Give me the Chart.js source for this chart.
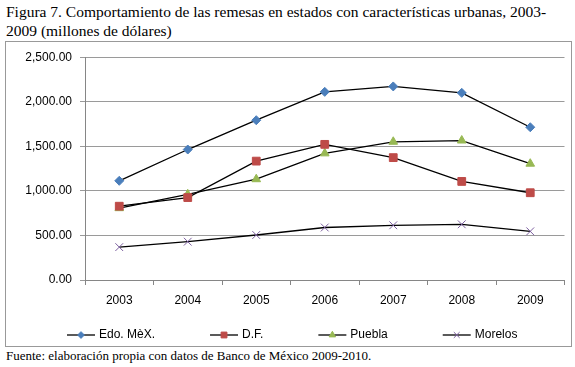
<!DOCTYPE html>
<html>
<head>
<meta charset="utf-8">
<script src="https://cdn.jsdelivr.net/npm/chart.js@4/dist/chart.umd.min.js"></script>
<style>
  body { margin: 0; background: #fff; width: 575px; height: 367px; position: relative; overflow: hidden; }
  #title { position: absolute; left: 6px; top: 2px; font: 15.5px "Liberation Serif", "Times New Roman", serif; line-height: 19px; color: #000; }
  #box { position: absolute; left: 5px; top: 41px; width: 565px; height: 304px; border: 1px solid #999; }
  #source { position: absolute; left: 6px; top: 348px; font: 13px "Liberation Serif", "Times New Roman", serif; color: #000; }
</style>
</head>
<body>
<div id="title">Figura 7. Comportamiento de las remesas en estados con características urbanas, 2003-<br>2009 (millones de dólares)</div>
<div id="box"><canvas id="chart" width="565" height="304"></canvas></div>
<div id="source">Fuente: elaboración propia con datos de Banco de México 2009-2010.</div>
<script>
const years = ['2003', '2004', '2005', '2006', '2007', '2008', '2009'];
const edoMex = [1113, 1464, 1793, 2111, 2172, 2100, 1714];
const df = [828, 925, 1334, 1522, 1373, 1106, 979];
const puebla = [806, 961, 1131, 1421, 1551, 1565, 1305];
const morelos = [369, 430, 505, 589, 614, 625, 546];

const axisFont = { family: '"Liberation Sans", Arial, sans-serif', size: 12 };

// legend drawn as line + marker, like the spreadsheet one
const lineLegend = {
  id: 'lineLegend',
  afterDraw(chart) {
    const ctx = chart.ctx;
    ctx.save();
    ctx.font = '12px "Liberation Sans", Arial, sans-serif';
    ctx.textBaseline = 'middle';
    const y = chart.height - 11;
    let x = 61;
    chart.data.datasets.forEach(ds => {
      ctx.strokeStyle = '#000';
      ctx.lineWidth = 1.3;
      ctx.beginPath();
      ctx.moveTo(x, y);
      ctx.lineTo(x + 28, y);
      ctx.stroke();
      ctx.fillStyle = ds.pointBackgroundColor;
      ctx.strokeStyle = ds.pointBorderColor;
      ctx.lineWidth = 1;
      Chart.helpers.drawPoint(ctx, {
        pointStyle: ds.pointStyle,
        radius: ds.pointRadius * 0.75,
        borderWidth: 1
      }, x + 14, y);
      ctx.fillStyle = '#000';
      ctx.fillText(ds.label, x + 32, y);
      x += 32 + ctx.measureText(ds.label).width + 55;
    });
    ctx.restore();
  }
};

function series(label, data, color, style, radius) {
  return {
    label: label,
    data: data,
    borderColor: '#000',
    borderWidth: 1.3,
    pointStyle: style,
    pointRadius: radius,
    pointHoverRadius: radius,
    pointBackgroundColor: color,
    pointBorderColor: color,
    pointBorderWidth: 1,
    tension: 0
  };
}

new Chart(document.getElementById('chart'), {
  type: 'line',
  data: {
    labels: years,
    datasets: [
      series('Edo. MèX.', edoMex, '#4a7ebb', 'rectRot', 4.5),
      series('D.F.', df, '#be4b48', 'rect', 5.5),
      series('Puebla', puebla, '#98b954', 'triangle', 5),
      series('Morelos', morelos, '#7d60a0', 'crossRot', 5.5)
    ]
  },
  options: {
    responsive: false,
    devicePixelRatio: 1,
    animation: false,
    layout: { padding: { top: 7, right: 0, bottom: 38, left: 0 } },
    plugins: {
      legend: { display: false },
      tooltip: { enabled: false }
    },
    scales: {
      x: {
        offset: true,
        grid: { offset: true, drawOnChartArea: false, drawTicks: true, tickLength: 5, color: '#868686' },
        border: { color: '#868686', width: 1 },
        ticks: { font: axisFont, color: '#000', padding: 8, maxRotation: 0 },
        afterFit: scale => { scale.height = 28; }
      },
      y: {
        min: 0,
        max: 2500,
        grid: { color: '#9a9a9a', tickLength: 5 },
        border: { color: '#868686', width: 1 },
        ticks: {
          stepSize: 500,
          font: axisFont,
          color: '#000',
          padding: 8,
          callback: v => v.toLocaleString('en-US', { minimumFractionDigits: 2, maximumFractionDigits: 2 })
        },
        afterFit: scale => { scale.width = 79; }
      }
    }
  },
  plugins: [lineLegend]
});
</script>
</body>
</html>
